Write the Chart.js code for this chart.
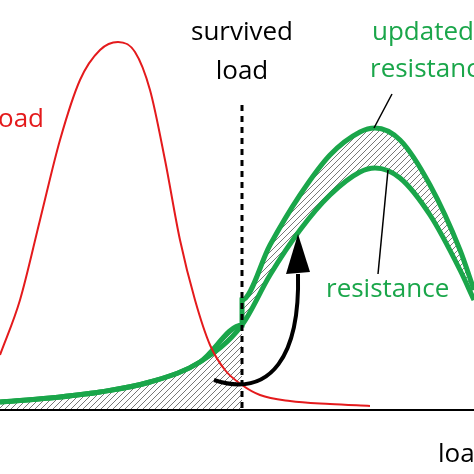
<!DOCTYPE html>
<html><head><meta charset="utf-8">
<script src="https://cdn.jsdelivr.net/npm/chart.js@4.4.0/dist/chart.umd.min.js"></script>
<style>html,body{margin:0;padding:0;background:#fff}#wrap{width:474px;height:474px}</style>
</head><body><div id="wrap"><canvas id="c"></canvas></div>
<script>
// x in diagram units, y = height above page bottom (474 - pixel row)
var loadX = [0,20,40,60,80,100,118,135,150,165,180,195,210,225,242,260,290,330,370];
var loadY = [119,174,254,334,394,424,432,422,384,314,234,174,129,104,89,79,73,70,68];
var resX = [0,50,100,150,200,242,270,300,330,360,375,400,430,460,474];
var resY = [72,76,82,92,112,149,199,244,279,302,306,296,259,204,174];
var updX = [0,50,100,150,200,242,242,270,300,330,360,375,400,430,460,474];
var updY = [72,76,82,92,112,149,174,229,279,319,342,346,334,289,224,184];
var leftX = [0,50,100,150,200,242];
var leftY = [72,76,82,92,112,149];
var baseY = 64;
var cutX = 242;

function pts(xs, ys){ return xs.map(function(x,i){ return {x:x, y:ys[i]}; }); }

var ctx = document.getElementById('c').getContext('2d');
var pc = document.createElement('canvas'); pc.width = 6; pc.height = 6;
var p = pc.getContext('2d');
p.strokeStyle = '#555'; p.lineWidth = 0.8;
p.beginPath(); p.moveTo(0,6); p.lineTo(6,0); p.moveTo(-1,1); p.lineTo(1,-1); p.moveTo(5,7); p.lineTo(7,5); p.stroke();
var hatch = ctx.createPattern(pc, 'repeat');

var overlay = {
  id: 'overlay',
  afterDatasetsDraw: function(chart){
    var c = chart.ctx, xs = chart.scales.x, ys = chart.scales.y;
    function X(v){ return xs.getPixelForValue(v); }
    function Y(v){ return ys.getPixelForValue(v); }
    c.save();
    c.strokeStyle = '#000'; c.lineWidth = 2;
    c.beginPath(); c.moveTo(0, Y(baseY)); c.lineTo(474, Y(baseY)); c.stroke();
    c.setLineDash([6,5]); c.lineWidth = 3;
    c.beginPath(); c.moveTo(X(cutX), Y(369)); c.lineTo(X(cutX), Y(baseY)); c.stroke();
    c.setLineDash([]);
    c.lineWidth = 4;
    c.beginPath(); c.moveTo(X(214), Y(94));
    c.bezierCurveTo(X(272), Y(75), X(300), Y(120), X(298), Y(200)); c.stroke();
    c.fillStyle = '#000';
    c.beginPath(); c.moveTo(X(298), Y(240)); c.lineTo(X(286), Y(200)); c.lineTo(X(310), Y(202)); c.closePath(); c.fill();
    c.lineWidth = 1.5;
    c.beginPath(); c.moveTo(X(392), Y(380)); c.lineTo(X(374), Y(346)); c.stroke();
    c.beginPath(); c.moveTo(X(378), Y(200)); c.lineTo(X(388), Y(304)); c.stroke();
    c.font = '26px "Open Sans", "Noto Sans", sans-serif';
    c.textAlign = 'center'; c.textBaseline = 'middle';
    c.fillStyle = '#000';
    c.fillText('survived', 242, 33);
    c.fillText('load', 242, 72);
    c.fillStyle = '#e41a1c'; c.textAlign = 'left';
    c.fillText('oad', -2, 120);
    c.fillStyle = '#1aa64a';
    c.fillText('updated', 372, 33);
    c.fillText('resistance', 370, 70);
    c.fillText('resistance', 326, 290);
    c.fillStyle = '#000';
    c.fillText('loa', 438, 455);
    c.restore();
  }
};

new Chart(ctx, {
  type: 'line',
  data: { datasets: [
    { data: pts(loadX, loadY), borderColor: '#e41a1c', borderWidth: 2, pointRadius: 0, cubicInterpolationMode: 'monotone', fill: false },
    { data: pts(resX, resY), borderColor: '#1aa64a', borderWidth: 5, pointRadius: 0, cubicInterpolationMode: 'monotone', fill: false },
    { data: pts(updX, updY), borderColor: '#1aa64a', borderWidth: 5, pointRadius: 0, cubicInterpolationMode: 'monotone', fill: {target: 1}, backgroundColor: hatch },
    { data: pts(leftX, leftY), borderWidth: 0, pointRadius: 0, cubicInterpolationMode: 'monotone', fill: {value: baseY}, backgroundColor: hatch }
  ]},
  options: {
    responsive: true, maintainAspectRatio: false, animation: false,
    layout: { padding: 0 },
    plugins: { legend: {display: false}, tooltip: {enabled: false} },
    scales: {
      x: { type: 'linear', min: 0, max: 474, display: false },
      y: { min: 0, max: 474, display: false }
    }
  },
  plugins: [overlay]
});
</script></body></html>
